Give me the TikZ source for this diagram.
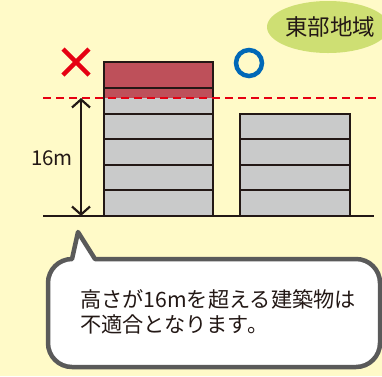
\documentclass[tikz,border=0pt]{standalone}
\usepackage{fontspec}
\newfontfamily\jp{Noto Sans CJK JP}
\usetikzlibrary{arrows.meta}
\definecolor{bgyellow}{HTML}{FFFAC8}
\definecolor{ellgreen}{HTML}{CEDF73}
\definecolor{txt}{HTML}{231815}
\definecolor{redline}{HTML}{E60012}
\definecolor{bluec}{HTML}{0068B7}
\definecolor{redfloor}{HTML}{BE505A}
\definecolor{greyfloor}{HTML}{C9CACA}
\definecolor{bubbleedge}{HTML}{5A5A5A}
\tikzset{
  edgeline/.style={draw=txt, line width=2.6pt},
  label/.style={text=txt, inner sep=0pt, font=\jp},
}
\begin{document}
\begin{tikzpicture}[x=1pt,y=1pt]
\useasboundingbox (0,0) rectangle (382,-376);
\fill[bgyellow] (0,0) rectangle (382,-376);
% ellipse
\begin{scope}
\clip (0,0) rectangle (382,-376);
\fill[ellgreen] (328,-27) ellipse[x radius=61, y radius=26];
\end{scope}
\node[label, font=\jp\fontsize{22.5}{24}\selectfont] (region) at (330,-27) {東部地域};
% marks
\draw[redline, line width=4.5pt] (63,-49) -- (89,-75) (89,-49) -- (63,-75);
\draw[bluec, line width=4.5pt] (249,-63) circle[radius=13];
% left building
\fill[greyfloor] (104,-62) rectangle (213,-216);
\fill[redfloor] (104,-62) rectangle (213,-98);
\foreach \y in {88,114,139,165,190}{\draw[edgeline] (104,-\y) -- (213,-\y);}
\draw[edgeline, line join=miter] (104,-216) -- (104,-62) -- (213,-62) -- (213,-216);
% right building
\fill[greyfloor] (240,-114) rectangle (350,-216);
\foreach \y in {139,165,190}{\draw[edgeline] (240,-\y) -- (350,-\y);}
\draw[edgeline, line join=miter] (240,-216) -- (240,-114) -- (350,-114) -- (350,-216);
% ground
\coordinate (gl) at (43,-216);
\coordinate (gr) at (374,-216);
\draw[edgeline] (gl) -- (gr);
% dashed limit
\coordinate (dl) at (43,-98);
\coordinate (dr) at (378,-98);
\draw[redline, line width=2pt, dash pattern=on 8pt off 5pt] (dl) -- (dr);
% arrow
\coordinate (at) at (81,-98);
\coordinate (ab) at (81,-216);
\draw[txt, line width=2.2pt, {Straight Barb[length=8pt,width=18pt]}-{Straight Barb[length=8pt,width=18pt]}] (at) -- (ab);
\node[label, font=\jp\fontsize{20.5}{22}\selectfont] (h) at (52,-158) {16m};
% bubble
\draw[bubbleedge, fill=white, line width=4.5pt, line join=round]
  (72,-259) -- (78,-232) -- (95,-259) -- (356,-259)
  arc[start angle=90, end angle=0, radius=24] -- (380,-343)
  arc[start angle=0, end angle=-90, radius=24] -- (72,-367)
  arc[start angle=270, end angle=180, radius=24] -- (48,-283)
  arc[start angle=180, end angle=90, radius=24] -- cycle;
\node[label, anchor=west, align=left, font=\jp\fontsize{21.2}{25}\selectfont] (msg) at (80,-312)
  {高さが16mを超える建築物は\\不適合となります。};
\end{tikzpicture}
\end{document}
